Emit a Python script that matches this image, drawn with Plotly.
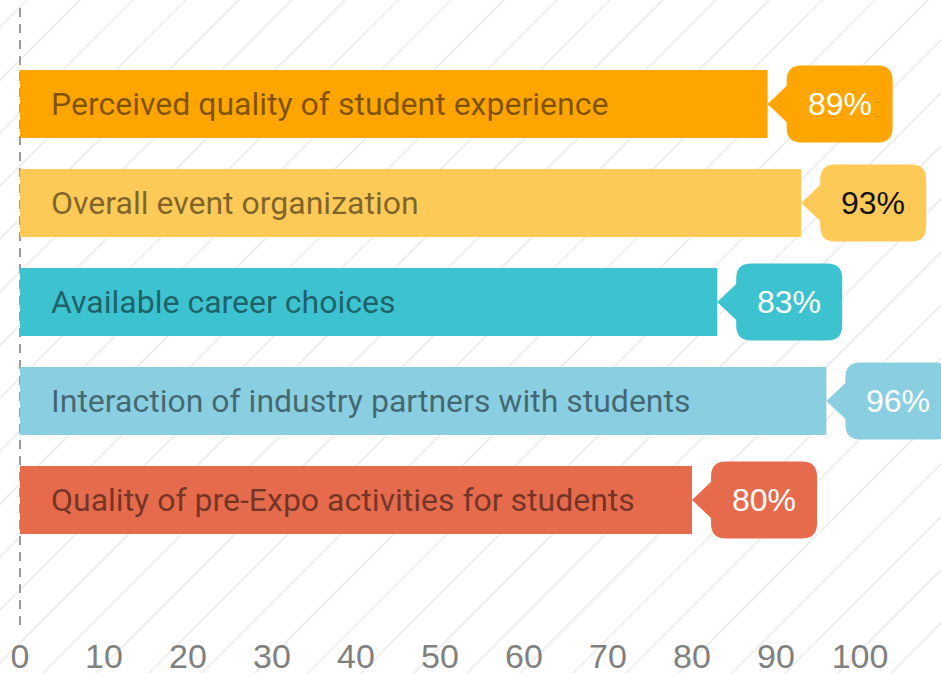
import plotly.graph_objects as go

categories = [
    "Perceived quality of student experience",
    "Overall event organization",
    "Available career choices",
    "Interaction of industry partners with students",
    "Quality of pre-Expo activities for students",
]
values = [89, 93, 83, 96, 80]
value_labels = ["89%", "93%", "83%", "96%", "80%"]
bar_colors = ["#FEA501", "#FDC957", "#3DC2CF", "#89CFE1", "#E66B4C"]
bubble_text_colors = ["#FFFFFF", "#111111", "#FFFFFF", "#FFFFFF", "#FFFFFF"]
tick_values = [0, 10, 20, 30, 40, 50, 60, 70, 80, 90, 100]
tick_labels = ["0", "10", "20", "30", "40", "50", "60", "70", "80", "90", "100"]

W, H = 941, 673
MB = 40
PH = H - MB
SX = 8.40      # px per x unit
SY = 99.0      # px per category step
X0PX = 20      # pixel of value 0
Y0PX = 104     # pixel of first bar center

xr = [-X0PX / SX, (W - X0PX) / SX]
yr = [(PH - Y0PX) / SY, -Y0PX / SY]

ypos = list(range(len(categories)))

fig = go.Figure()
fig.add_trace(go.Bar(
    x=values, y=ypos, orientation="h",
    width=68 / SY,
    marker=dict(color=bar_colors, line=dict(width=0)),
    hoverinfo="skip",
))

shapes = []
# background diagonal stripes (paper coordinates)
segs = []
c = 27
while c < W + H + 60:
    xa, ya = c + 20, -20
    xb, yb = c - 720, 720
    segs.append(f"M{xa / W:.5f},{1 - ya / PH:.5f} L{xb / W:.5f},{1 - yb / PH:.5f}")
    c += 53
shapes.append(dict(type="path", xref="paper", yref="paper", path=" ".join(segs),
                   line=dict(color="#ECECEC", width=1.6), layer="below"))

# dashed zero line
shapes.append(dict(type="line", xref="x", yref="paper", x0=0, x1=0,
                   y0=1 - 8 / PH, y1=1 - 625 / PH,
                   line=dict(color="#9A9A9A", width=2, dash="9px,7px"), layer="below"))

annotations = []
g = 19 / SX
ph = 18 / SY
bw = 106 / SX
bh = 77 / SY
rx = 15 / SX
ry = 15 / SY
for i, (v, lab, col, tcol, cat) in enumerate(zip(values, value_labels, bar_colors, bubble_text_colors, categories)):
    L = v + g
    R = L + bw
    T = i - bh / 2
    B = i + bh / 2
    p = (f"M{v},{i} L{L},{i - ph} L{L},{T + ry} Q{L},{T} {L + rx},{T} "
         f"L{R - rx},{T} Q{R},{T} {R},{T + ry} L{R},{B - ry} Q{R},{B} {R - rx},{B} "
         f"L{L + rx},{B} Q{L},{B} {L},{B - ry} L{L},{i + ph} Z")
    shapes.append(dict(type="path", xref="x", yref="y", path=p,
                       fillcolor=col, line=dict(width=0), layer="above"))
    annotations.append(dict(x=L + bw / 2, y=i, xref="x", yref="y", text=lab,
                            showarrow=False, xanchor="center", yanchor="middle",
                            font=dict(family="Liberation Sans, Arial, sans-serif", size=32, color=tcol)))
    annotations.append(dict(x=0, y=i, xref="x", yref="y", text=cat, xshift=29,
                            showarrow=False, xanchor="left", yanchor="middle",
                            font=dict(family="Roboto, sans-serif", size=32, color="rgba(0,0,0,0.5)")))

fig.update_layout(
    width=W, height=H,
    margin=dict(l=0, r=0, t=0, b=MB, autoexpand=False),
    paper_bgcolor="white", plot_bgcolor="rgba(0,0,0,0)",
    showlegend=False,
    shapes=shapes, annotations=annotations,
    xaxis=dict(range=xr, tickvals=tick_values, ticktext=tick_labels, showgrid=False,
               zeroline=False, showline=False, ticks="", automargin=False,
               tickfont=dict(family="Liberation Sans, Arial, sans-serif",
                             size=34, color="#808080")),
    yaxis=dict(range=yr, showgrid=False, zeroline=False, showticklabels=False,
               showline=False, automargin=False),
)

fig.write_html("out.html", config={"displayModeBar": False},
               post_script="document.body.style.margin='0';document.body.style.padding='0';"
                           "document.documentElement.style.overflow='hidden';")
